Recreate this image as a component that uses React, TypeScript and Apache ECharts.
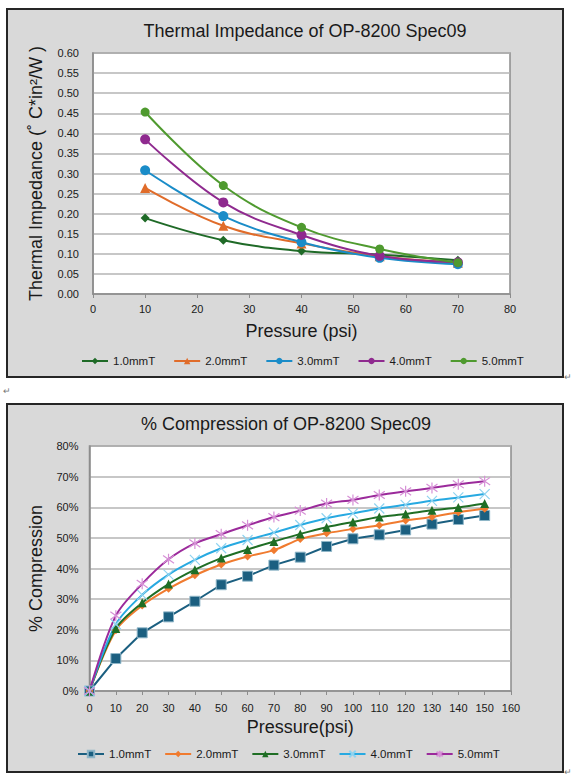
import { useEffect, useRef } from "react";
import * as echarts from "echarts";

const FONT = '"Liberation Sans", Arial, sans-serif';

// Thermal impedance chart
const thermalPressure = [10, 25, 40, 55, 70];
const thermalNames = ["1.0mmT", "2.0mmT", "3.0mmT", "4.0mmT", "5.0mmT"];
const thermal1 = [0.189, 0.134, 0.107, 0.098, 0.084];
const thermal2 = [0.264, 0.17, 0.126, 0.094, 0.078];
const thermal3 = [0.308, 0.194, 0.129, 0.09, 0.074];
const thermal4 = [0.385, 0.228, 0.147, 0.095, 0.079];
const thermal5 = [0.453, 0.27, 0.166, 0.112, 0.078];
const thermalYTicks = { min: 0, max: 0.6, step: 0.05 };
const thermalXTicks = { min: 0, max: 80, step: 10 };

// Compression chart
const compPressure = [0, 10, 20, 30, 40, 50, 60, 70, 80, 90, 100, 110, 120, 130, 140, 150];
const compNames = ["1.0mmT", "2.0mmT", "3.0mmT", "4.0mmT", "5.0mmT"];
const comp1 = [0, 10.6, 19.0, 24.2, 29.3, 34.7, 37.5, 41.1, 43.7, 47.2, 49.7, 51.0, 52.6, 54.5, 56.0, 57.3];
const comp2 = [0, 19.8, 27.9, 33.4, 37.8, 41.3, 43.9, 46.0, 49.6, 51.5, 52.9, 54.1, 55.7, 56.8, 58.4, 59.5];
const comp3 = [0, 20.4, 28.8, 34.9, 39.6, 43.4, 46.2, 48.8, 51.3, 53.5, 55.2, 56.8, 57.8, 59.0, 59.9, 61.2];
const comp4 = [0, 21.8, 31.4, 38.0, 42.8, 46.6, 49.3, 51.7, 54.2, 56.4, 58.0, 59.6, 60.8, 62.1, 63.2, 64.3];
const comp5 = [0, 24.6, 35.0, 43.0, 48.2, 51.2, 54.1, 56.8, 58.9, 61.2, 62.4, 64.0, 65.2, 66.3, 67.5, 68.5];
const compYTicks = { min: 0, max: 80, step: 10 };
const compXTicks = { min: 0, max: 160, step: 10 };

const pair = (xs: number[], ys: number[]) => xs.map((x, i) => [x, ys[i]]);

const textColor = "#1a1a1a";
const gridLine = { show: true, lineStyle: { color: "#b4b4b4", width: 1.5 } };

function Chart({ option }: { option: echarts.EChartsOption }) {
  const ref = useRef<HTMLDivElement>(null);
  useEffect(() => {
    if (!ref.current) return;
    const chart = echarts.init(ref.current, undefined, { renderer: "svg" });
    chart.setOption(option);
    return () => chart.dispose();
  }, [option]);
  return <div ref={ref} style={{ width: 554, height: 366 }} />;
}

const thermalColors = ["#1f6a27", "#e06c2a", "#1a8cc8", "#8f2a8f", "#4f9a2f"];
const thermalSymbols = ["diamond", "triangle", "circle", "circle", "circle"];
const thermalSizes = [9, 10, 10, 10, 9];

const thermalOption: echarts.EChartsOption = {
  animation: false,
  title: {
    text: "Thermal Impedance of OP-8200 Spec09",
    left: 297,
    top: 12,
    textAlign: "center",
    padding: 0,
    textStyle: { fontFamily: FONT, fontSize: 18, fontWeight: "normal", color: textColor },
  },
  grid: {
    left: 85, right: 52, top: 43, bottom: 82,
    show: true, backgroundColor: "#ffffff", borderColor: "#8c8c8c", borderWidth: 1.5,
  },
  legend: {
    left: 73,
    top: 345,
    padding: 0,
    itemWidth: 26,
    itemHeight: 8,
    itemGap: 18,
    textStyle: { fontFamily: FONT, fontSize: 11.5, color: textColor },
    data: thermalNames,
  },
  xAxis: {
    type: "value",
    min: thermalXTicks.min,
    max: thermalXTicks.max,
    interval: thermalXTicks.step,
    name: "Pressure (psi)",
    nameLocation: "middle",
    nameGap: 28,
    nameTextStyle: { fontFamily: FONT, fontSize: 18, color: textColor },
    axisLine: { show: true, lineStyle: { color: "#8c8c8c", width: 1.5 } },
    axisTick: { show: true, length: 4, lineStyle: { color: "#8c8c8c" } },
    axisLabel: { fontFamily: FONT, fontSize: 11, color: textColor, margin: 9 },
    splitLine: { show: false },
  },
  yAxis: {
    type: "value",
    min: thermalYTicks.min,
    max: thermalYTicks.max,
    interval: thermalYTicks.step,
    name: "Thermal Impedance (˚ C*in²/W )",
    nameLocation: "middle",
    nameGap: 48,
    nameTextStyle: { fontFamily: FONT, fontSize: 18, color: textColor },
    axisLine: { show: true, lineStyle: { color: "#8c8c8c", width: 1.5 } },
    axisTick: { show: false },
    axisLabel: {
      fontFamily: FONT, fontSize: 11, color: textColor, margin: 14,
      formatter: (v: number) => v.toFixed(2),
    },
    splitLine: gridLine,
  },
  series: [thermal1, thermal2, thermal3, thermal4, thermal5].map((vals, i) => ({
    name: thermalNames[i],
    type: "line",
    smooth: 0.4,
    data: pair(thermalPressure, vals),
    symbol: thermalSymbols[i],
    symbolSize: thermalSizes[i],
    lineStyle: { color: thermalColors[i], width: 2 },
    itemStyle: { color: thermalColors[i] },
  })),
};

const compColors = ["#1b5f80", "#f07b2f", "#1f6e25", "#27a9e1", "#9b2a9b"];
const compMarkerColors = ["#1b5f80", "#f07b2f", "#1f6e25", "#8fd3f0", "#d690d6"];
const crossPath = "path://M0,0L10,10M10,0L0,10";
const starPath = "path://M5,0L5,10M0.5,1.5L9.5,8.5M9.5,1.5L0.5,8.5";
const compSymbols = ["rect", "diamond", "triangle", crossPath, starPath];
const compSizes = [10, 8, 9, 10, 11];

const compOption: echarts.EChartsOption = {
  animation: false,
  title: {
    text: "% Compression of OP-8200 Spec09",
    left: 278,
    top: 10,
    textAlign: "center",
    padding: 0,
    textStyle: { fontFamily: FONT, fontSize: 18, fontWeight: "normal", color: textColor },
  },
  grid: {
    left: 81.5, right: 51, top: 41, bottom: 80,
    show: true, backgroundColor: "#ffffff", borderColor: "#8c8c8c", borderWidth: 1.5,
  },
  legend: {
    left: 69,
    top: 343,
    padding: 0,
    itemWidth: 26,
    itemHeight: 8,
    itemGap: 13,
    textStyle: { fontFamily: FONT, fontSize: 11.5, color: textColor },
    data: compNames,
  },
  xAxis: {
    type: "value",
    min: compXTicks.min,
    max: compXTicks.max,
    interval: compXTicks.step,
    name: "Pressure(psi)",
    nameLocation: "middle",
    nameGap: 26,
    nameTextStyle: { fontFamily: FONT, fontSize: 18, color: textColor },
    axisLine: { show: true, lineStyle: { color: "#8c8c8c", width: 1.5 } },
    axisTick: { show: true, length: 4, lineStyle: { color: "#8c8c8c" } },
    axisLabel: { fontFamily: FONT, fontSize: 11, color: textColor, margin: 11 },
    splitLine: { show: false },
  },
  yAxis: {
    type: "value",
    min: compYTicks.min,
    max: compYTicks.max,
    interval: compYTicks.step,
    name: "% Compression",
    nameLocation: "middle",
    nameGap: 45,
    nameTextStyle: { fontFamily: FONT, fontSize: 18, color: textColor },
    axisLine: { show: true, lineStyle: { color: "#8c8c8c", width: 1.5 } },
    axisTick: { show: false },
    axisLabel: {
      fontFamily: FONT, fontSize: 11, color: textColor, margin: 11,
      formatter: (v: number) => v + "%",
    },
    splitLine: gridLine,
  },
  series: [comp1, comp2, comp3, comp4, comp5].map((vals, i) => ({
    name: compNames[i],
    type: "line",
    smooth: i === 0 ? false : 0.3,
    data: pair(compPressure, vals),
    symbol: compSymbols[i],
    symbolSize: compSizes[i],
    lineStyle: { color: compColors[i], width: 2 },
    itemStyle:
      i >= 3
        ? { color: "none", borderColor: compMarkerColors[i], borderWidth: 1.2 }
        : { color: compMarkerColors[i], borderColor: i === 0 ? "#8fb6c8" : compMarkerColors[i], borderWidth: i === 0 ? 1 : 0 },
  })),
};

const panelStyle: React.CSSProperties = {
  position: "absolute",
  left: 6,
  width: 558,
  height: 370,
  boxSizing: "border-box",
  border: "2px solid #262626",
  background: "#d9d9d9",
};

const markStyle: React.CSSProperties = {
  position: "absolute",
  fontSize: 9,
  color: "#777",
  fontFamily: FONT,
  lineHeight: "10px",
};

export default function App() {
  return (
    <div style={{ position: "absolute", left: 0, top: 0, width: 573, height: 784, background: "#ffffff" }}>
      <div style={{ ...panelStyle, top: 8 }}>
        <Chart option={thermalOption} />
      </div>
      <div style={{ ...panelStyle, top: 403 }}>
        <Chart option={compOption} />
      </div>
      <span style={{ ...markStyle, left: 564, top: 372 }}>↵</span>
      <span style={{ ...markStyle, left: 3, top: 386 }}>↵</span>
      <span style={{ ...markStyle, left: 564, top: 767 }}>↵</span>
    </div>
  );
}
